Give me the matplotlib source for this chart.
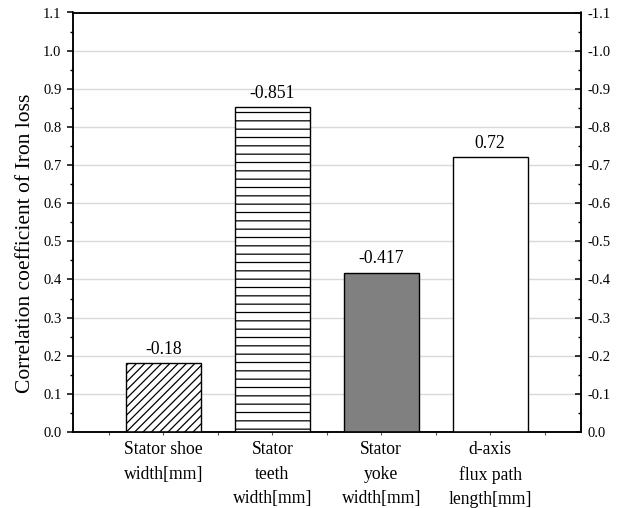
import matplotlib
matplotlib.use('Agg')
import matplotlib.pyplot as plt
from matplotlib.ticker import MultipleLocator, FuncFormatter

plt.rcParams['font.family'] = ['Liberation Serif', 'DejaVu Serif']
plt.rcParams['hatch.linewidth'] = 0.9

# Correlation of each design variable with iron loss
categories = ["Stator shoe\nwidth[mm]", "Stator\nteeth\nwidth[mm]",
              "Stator\nyoke\nwidth[mm]", "d-axis\nflux path\nlength[mm]"]
correlation = [-0.18, -0.851, -0.417, 0.72]

positions = list(range(1, len(categories) + 1))
magnitudes = [abs(c) for c in correlation]
hatches = ["////", "--", "", ""]
faces = ["white", "white", "#808080", "white"]

fig = plt.figure(figsize=(6.19, 5.08), dpi=100)
ax = fig.add_axes([72.5 / 619, 1 - 432 / 508, 508 / 619, 419.5 / 508])

ax.yaxis.grid(True, color="#d9d9d9", linewidth=1.0)
ax.set_axisbelow(True)

bars = ax.bar(positions, magnitudes, width=0.69, color=faces,
              edgecolor="black", linewidth=1.0, zorder=3)
for bar, h in zip(bars, hatches):
    bar.set_hatch(h)

for x, mag, val in zip(positions, magnitudes, correlation):
    ax.annotate(f"{val:g}", (x, mag), xytext=(0, 4), textcoords="offset points",
                ha="center", va="bottom", fontsize=12.7)

ax.set_xlim(0.165, 4.83)
ax.set_ylim(0, 1.1)
ax.set_xticks(positions)
ax.set_xticklabels(categories, fontsize=12.7, linespacing=1.58)
ax.xaxis.set_minor_locator(MultipleLocator(0.5))
ax.tick_params(axis="x", which="both", direction="out", length=2.5, width=0.8,
               color="#555555", pad=4)

ax.yaxis.set_major_locator(MultipleLocator(0.1))
ax.yaxis.set_minor_locator(MultipleLocator(0.05))
ax.yaxis.set_major_formatter(FuncFormatter(lambda v, p: f"{v:.1f}"))
ax.tick_params(axis="y", which="major", direction="out", length=4.5, width=1.1, labelsize=10.5)
ax.tick_params(axis="y", which="minor", direction="out", length=2.5, width=1.0)
ax.set_ylabel("Correlation coefficient of Iron loss", fontsize=15.5)
ax.yaxis.set_label_coords(-0.073, 0.45)

# Mirrored axis on the right with negative labels, ticks pointing inward
ax2 = ax.twinx()
ax2.set_ylim(0, 1.1)
ax2.yaxis.set_major_locator(MultipleLocator(0.1))
ax2.yaxis.set_minor_locator(MultipleLocator(0.05))
ax2.yaxis.set_major_formatter(FuncFormatter(lambda v, p: "0.0" if abs(v) < 1e-9 else f"-{v:.1f}"))
ax2.tick_params(axis="y", which="major", direction="in", length=4, width=1.1,
                labelsize=10.5, pad=5)
ax2.tick_params(axis="y", which="minor", direction="in", length=2.5, width=1.0)

for a in (ax, ax2):
    for s in a.spines.values():
        s.set_linewidth(1.1)

fig.savefig("out.png", dpi=100)
